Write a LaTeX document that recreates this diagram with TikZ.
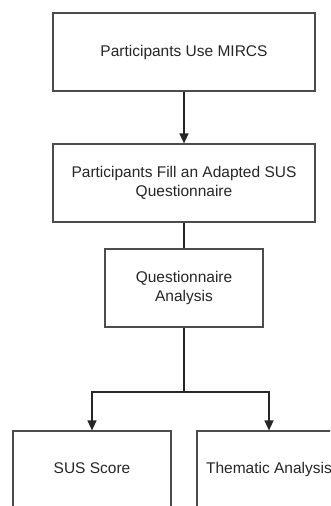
\documentclass[tikz,border=0pt]{standalone}
\usepackage{fontspec}
\setmainfont{Liberation Sans}
\usetikzlibrary{arrows.meta}
\begin{document}
\begin{tikzpicture}[x=1pt,y=-1pt,
  box/.style={draw=black!70,line width=1.2pt,fill=white,rectangle,minimum height=78pt,align=center,inner sep=2pt,font=\fontsize{15.5}{19.5}\selectfont,text=black!85},
  conn/.style={draw=black!85,line width=1.3pt},
  arr/.style={conn,-{Triangle[width=9pt,length=10pt]}}]
\useasboundingbox (0,0) rectangle (330,506);
\clip (0,0) rectangle (330,506);
\fill[white] (0,0) rectangle (330,506);
\node[box,minimum width=262pt] (b1) at (184,52) {Participants Use MIRCS};
\node[box,minimum width=262pt] (b2) at (184,183) {Participants Fill an Adapted SUS\\Questionnaire};
\node[box,minimum width=158pt] (b3) at (184,288) {Questionnaire\\Analysis};
\node[box,minimum width=158pt] (b4) at (92,470) {\strut SUS Score};
\node[box,minimum width=144pt] (b5) at (269,470) {\strut Thematic Analysis};
\coordinate (j) at (184,392);
\coordinate (jl) at (92,392);
\coordinate (jr) at (269,392);
\draw[arr] (b1.south) -- (b2.north);
\draw[conn] (b2.south) -- (b3.north);
\draw[conn] (b3.south) -- (j);
\draw[arr] (j) -- (jl) -- (b4.north);
\draw[arr] (j) -- (jr) -- (b5.north);
\end{tikzpicture}
\end{document}
